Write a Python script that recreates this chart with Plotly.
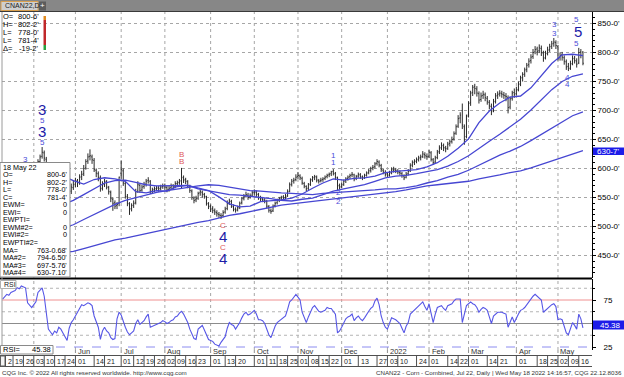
import plotly.graph_objects as go
import pandas as pd

# ---------------- data ----------------
holidays = ["2021-05-31", "2021-07-05", "2021-09-06", "2021-11-25", "2021-12-24",
            "2022-01-17", "2022-02-21", "2022-04-15"]
dates = pd.bdate_range("2021-04-12", "2022-05-18", freq="C", holidays=holidays)
date_str = [d.strftime("%Y-%m-%d") for d in dates]

opens = [535,541,546,554,563,571,576,583,591,589,599,597,602,587,584,
         582,591,599,612,621,627,616,598,584,566,556,566,563,573,565,559,551,541,561,567,
         573,579,576,586,591,601,613,621,620,614,597,591,584,566,573,577,567,559,547,541,536,540,
         592,596,574,551,539,531,537,541,561,571,563,569,573,579,578,561,564,565,567,566,569,
         571,567,564,567,571,569,574,576,579,584,581,577,569,561,549,546,549,558,559,555,551,539,
         534,531,527,524,521,519,519,525,531,541,543,534,529,529,533,541,549,553,554,551,554,
         559,559,555,549,547,545,543,534,527,527,536,541,546,549,551,550,553,561,573,579,581,
         586,587,583,574,569,566,573,581,585,585,579,579,581,583,586,589,591,595,591,584,571,
         569,573,579,583,586,589,589,583,587,589,585,585,589,593,597,601,603,609,611,605,597,593,
         591,589,593,597,597,595,593,591,587,585,591,596,606,611,613,616,619,621,624,621,
         621,627,615,611,619,629,636,639,635,635,643,647,651,661,673,687,700,672,655,
         692,714,731,741,737,729,719,726,727,721,714,707,700,716,726,729,729,727,725,722,706,721,731,
         729,736,746,757,763,771,779,786,793,801,806,803,807,799,791,799,805,811,816,817,
         810,791,796,791,784,776,773,781,789,785,782,801,800.75]
highs = [544,548,558,565,573,578,585,594,596,601,604,612,606,592,590,
         594,602,616,624,637,631,620,603,590,572,570,571,578,576,569,563,556,566,574,580,
         584,582,590,596,606,616,626,633,624,618,600,595,588,578,582,580,570,562,550,545,542,586,
         614,600,578,556,542,540,545,565,578,574,572,577,582,585,580,567,569,570,570,572,574,
         574,570,570,574,573,578,579,582,601,588,584,580,572,564,552,553,560,563,562,558,553,542,
         538,535,531,528,525,523,528,534,545,548,546,538,533,536,543,551,556,560,558,557,562,
         564,562,558,553,551,549,546,537,531,538,543,548,551,553,554,556,564,576,582,584,590,
         594,590,586,577,571,575,583,587,589,588,582,584,585,588,591,593,596,599,594,586,574,
         576,581,585,588,591,594,591,589,593,592,588,591,595,599,603,606,611,616,614,608,600,597,
         594,596,602,603,601,599,597,594,590,594,599,609,614,616,619,622,624,630,628,626,
         632,630,618,622,632,640,645,643,639,646,650,655,664,676,692,697,712,676,693,
         716,734,744,746,742,733,731,734,731,725,718,712,720,730,733,735,734,732,730,726,724,734,738,
         741,750,760,766,774,782,790,797,806,811,810,814,812,803,803,810,815,820,825,821,
         813,800,801,795,788,782,786,795,794,790,808,806,802.25]
lows = [530,536,543,550,558,566,572,580,582,586,590,594,584,578,574,
        579,586,596,606,617,612,596,580,560,548,552,556,560,560,554,546,527,536,556,563,
        568,568,572,580,587,598,608,614,608,594,585,578,560,562,568,564,555,542,527,530,530,535,
        582,570,548,535,520,526,532,538,558,558,560,565,569,574,556,557,559,561,560,562,565,
        563,559,560,563,563,566,570,572,565,575,573,566,558,546,540,542,546,553,550,548,536,530,
        525,523,520,517,515,513,516,522,528,537,532,526,524,526,530,538,545,550,546,548,551,
        553,551,546,544,542,540,531,524,522,525,533,538,542,545,545,547,551,559,569,574,578,
        582,580,572,566,561,563,570,577,580,576,574,576,577,580,583,585,587,588,580,563,564,
        566,570,575,579,582,585,578,580,584,582,580,582,586,590,593,597,600,605,602,594,590,586,
        584,586,590,593,592,590,588,584,580,583,588,594,602,606,609,612,614,618,617,615,
        618,612,606,608,616,625,632,630,628,632,638,643,648,658,670,678,668,641,652,
        688,708,725,728,724,712,715,720,716,710,702,692,697,712,720,724,722,720,716,695,702,717,722,
        726,733,742,750,758,766,774,781,789,797,795,799,794,784,788,795,801,806,810,806,
        786,786,786,779,770,768,770,778,781,774,780,790,778]
closes = [540,545,555,562,570,575,582,590,588,598,596,603,588,585,580,
          590,598,612,620,628,618,600,585,565,555,565,562,572,566,560,552,540,560,568,572,
          578,575,585,590,600,612,620,622,615,598,592,585,565,572,578,568,560,548,540,535,538,585,
          598,575,552,540,530,536,540,560,572,562,568,572,578,580,560,563,565,566,565,568,570,
          568,563,566,570,568,574,575,578,585,580,578,570,562,550,545,548,557,560,556,552,540,535,
          530,528,525,522,520,518,524,530,540,544,535,530,528,532,540,548,552,555,550,553,558,
          560,556,550,548,546,544,535,528,526,535,540,545,548,550,549,552,560,572,578,580,585,
          588,584,575,570,565,572,580,584,586,580,578,580,582,585,588,590,594,592,585,570,568,
          572,578,582,585,588,590,582,586,590,586,584,588,592,596,600,602,608,612,606,598,594,590,
          588,592,598,598,596,594,592,588,584,590,595,605,610,612,615,618,620,625,622,620,
          628,616,610,618,628,635,640,636,634,642,646,650,660,672,686,692,675,650,690,
          712,730,740,738,730,718,725,728,722,715,708,698,715,725,728,730,728,726,724,705,720,730,728,
          735,745,756,762,770,778,785,792,800,805,802,808,800,790,798,804,810,815,818,812,
          790,795,792,785,775,772,780,790,786,780,800,795,781.5]

ma_idx = [0,4,9,14,19,24,29,34,39,44,49,54,59,64,69,74,79,84,89,94,99,104,109,114,119,124,129,
          134,139,144,149,154,159,164,169,174,179,184,189,194,199,204,209,214,219,224,229,234,239,
          244,249,254,259,264,269,274,279]
ma_20 = [520,530,548,565,585,593,587,579,573,581,584,582,578,560,558,562,561,569,571,567,562,551,
         539,534,535,543,544,546,549,556,566,575,582,580,583,584,587,593,595,596,598,603,610,621,
         635,651,679,699,713,723,725,739,760,781,796,797,794.65]
ma_50 = [498,503,510,517,525,532,538,545,555,565,575,579,580,576,572,570,570,571,571,565,562,559,
         555,554,552,551,548,545,544,547,549,555,561,565,568,572,578,584,587,588,591,595,598,604,
         612,622,635,647,659,672,685,701,719,736,750,759,763.07]
ma_100 = [470,474,478,483,488,493,497,503,512,521,530,538,545,550,555,559,562,565,568,570,572,571,
          568,565,562,561,559,558,557,556,555,557,558,560,560,561,563,565,565,567,570,575,579,585,
          590,597,606,615,623,630,638,648,659,670,681,691,697.58]
ma_200 = [440,443,446,449,451,453,455,457,462,467,472,477,480,484,488,492,496,500,503,507,510,515,
          519,522,526,530,533,537,539,541,543,545,547,549,551,553,555,557,560,563,567,570,572,574,
          575,578,582,585,589,593,596,601,607,612,618,624,630.71]

rsi = [76,79,81,80,83,84,85,88,87,90,89,88,72,70,67,
       70,73,83,85,88,79,60,44,41,38,42,40,46,44,40,36,32,45,51,54,
       58,63,66,70,69,71,72,71,69,58,51,46,33,42,46,42,40,35,33,34,55,62,
       59,52,46,41,38,40,42,50,54,49,51,53,57,60,46,47,48,49,50,51,53,
       52,50,51,53,54,57,58,61,63,60,55,51,44,38,34,33,44,46,48,43,38,33,
       32,31,28,27,26,30,33,36,45,51,49,48,44,47,51,56,60,62,59,60,62,
       64,60,54,54,53,50,44,38,35,42,47,51,53,54,56,58,65,73,75,78,81,
       78,75,62,57,51,57,63,67,69,66,63,62,63,64,67,66,66,63,60,40,42,
       46,50,55,57,58,60,53,56,58,55,53,56,60,63,66,68,74,77,70,58,51,46,
       44,50,56,55,54,52,50,45,40,47,51,60,62,64,66,69,70,73,68,64,
       71,60,51,60,67,68,69,66,64,69,70,71,74,76,76,76,51,60,69,
       71,73,71,70,67,62,65,67,66,64,57,50,58,60,62,62,62,61,60,46,52,57,51,
       56,60,64,65,67,70,73,77,79,81,79,77,75,62,64,67,69,70,71,68,
       54,55,54,47,40,38,44,51,48,44,60,55,45.38]

price_ticks = [450, 500, 550, 600, 650, 700, 750, 800, 850]
price_tick_text = ["450-0'", "500-0'", "550-0'", "600-0'", "650-0'", "700-0'", "750-0'", "800-0'", "850-0'"]
rsi_ticks = [25, 50, 75]

day_tick_dates = ["2021-04-12","2021-04-19","2021-04-26","2021-05-03","2021-05-10","2021-05-17","2021-05-24",
                  "2021-06-01","2021-06-14","2021-06-21","2021-07-01","2021-07-12","2021-07-19","2021-07-26",
                  "2021-08-02","2021-08-09","2021-08-16","2021-08-23","2021-09-01","2021-09-13","2021-09-20",
                  "2021-10-01","2021-10-11","2021-10-18","2021-10-25","2021-11-01","2021-11-08","2021-11-15",
                  "2021-11-22","2021-12-01","2021-12-13","2021-12-27","2022-01-03","2022-01-10","2022-01-24",
                  "2022-02-01","2022-02-14","2022-02-22","2022-03-01","2022-03-14","2022-03-21","2022-04-01",
                  "2022-04-18","2022-04-25","2022-05-02","2022-05-09","2022-05-16"]
day_tick_text = ["2","19","26","03","10","17","24","01","14","21","01","12","19","26","02","09","16","23",
                 "01","13","20","01","11","18","25","01","08","15","22","01","13","27","03","10","24",
                 "01","14","22","01","14","21","01","18","25","02","09","16"]
month_dates = ["2021-06-01","2021-07-01","2021-08-02","2021-09-01","2021-10-01","2021-11-01",
               "2021-12-01","2022-01-03","2022-02-01","2022-03-01","2022-04-01","2022-05-02"]
month_text = ["Jun","Jul","Aug","Sep","Oct","Nov","Dec","2022","Feb","Mar","Apr","May"]
grid_month_dates = ["2021-05-03"] + month_dates

# Elliott-style labels: (text, bar index, price, size, colour)
BL, DB, RD = "#4a4ad8", "#1c1ca8", "#e05a5a"
wave_labels = [("3", 11, 616, 8, BL),
               ("3", 19, 701, 15, DB), ("5", 19, 682, 8, BL), ("3", 19, 663, 15, DB), ("5", 19, 644, 8, BL),
               ("B", 86, 624, 8, RD), ("B", 86, 612, 8, RD),
               ("C", 106, 501, 8, RD), ("4", 106, 482, 15, DB), ("C", 106, 464, 8, RD), ("4", 106, 445, 15, DB),
               ("1", 159, 623, 8, BL), ("1", 159, 610, 8, BL), ("2", 161.5, 558, 8, BL), ("2", 161.5, 543, 8, BL),
               ("3", 265.5, 849, 8, BL), ("3", 265.5, 833, 8, BL),
               ("5", 276, 857, 8, BL), ("5", 276.5, 836, 15, DB), ("5", 276, 816, 8, BL),
               ("4", 271.5, 757, 8, BL), ("4", 271.5, 745, 8, BL)]

# ---------------- geometry ----------------
FW, FH = 624, 377
L, R, T, B = 2, 592, 12, 350
W, H = R - L, B - T
X0 = -0.3
X1 = X0 + W / 2.08
P_TOP, P_BOT = 850 + 11.5 * 50 / 29, 850 - 254.5 * 50 / 29
R_TOP, R_BOT = 75 + 21 * 50 / 47, 25 - 3 * 50 / 47

def xpix(i):
    return L + (i - X0) * W / (X1 - X0)

def px(x):
    return (x - L) / W

def py(y):
    return (B - y) / H

pos = {s: i for i, s in enumerate(date_str)}
idx = list(range(len(closes)))

SANS = "Liberation Sans, Arial, sans-serif"
NARROW = "Liberation Sans Narrow, Liberation Sans, Arial, sans-serif"
annotations, shapes = [], []

def A(text, x, y, size=8, color="#000", xanchor="left", family=SANS, bg=None, border=None):
    d = dict(text=text, x=px(x), y=py(y), xref="paper", yref="paper", showarrow=False,
             xanchor=xanchor, yanchor="middle", font=dict(size=size, color=color, family=family),
             borderpad=0)
    if bg:
        d["bgcolor"] = bg
    if border:
        d["bordercolor"] = border
        d["borderwidth"] = 1
    annotations.append(d)

def RECT(x0, y0, x1, y1, fill=None, line=None, lw=1, layer="above"):
    shapes.append(dict(type="rect", xref="paper", yref="paper", x0=px(x0), x1=px(x1),
                       y0=py(y0), y1=py(y1), layer=layer,
                       fillcolor=fill if fill else "rgba(0,0,0,0)",
                       line=dict(color=line if line else "rgba(0,0,0,0)", width=lw if line else 0)))

def LINE(x0, y0, x1, y1, color, width=1, dash="solid", layer="above"):
    shapes.append(dict(type="line", xref="paper", yref="paper", x0=px(x0), x1=px(x1),
                       y0=py(y0), y1=py(y1), layer=layer, line=dict(color=color, width=width, dash=dash)))

# ---------------- traces ----------------
fig = go.Figure()
fig.add_trace(go.Ohlc(x=idx, open=opens, high=highs, low=lows, close=closes,
                      increasing=dict(line=dict(color="#2a2a2a", width=1)),
                      decreasing=dict(line=dict(color="#2a2a2a", width=1)),
                      tickwidth=0.4, xaxis="x", yaxis="y", hoverinfo="skip", showlegend=False))
for ser in (ma_200, ma_100, ma_50, ma_20):
    fig.add_trace(go.Scatter(x=ma_idx, y=ser, mode="lines", xaxis="x", yaxis="y",
                             line=dict(color="#4646d2", width=1.3), hoverinfo="skip", showlegend=False))
fig.add_trace(go.Scatter(x=idx, y=rsi, mode="lines", xaxis="x", yaxis="y2",
                         line=dict(color="#5656e6", width=1.1), hoverinfo="skip", showlegend=False))

# ---------------- grid & panel lines ----------------
for d in grid_month_dates:
    i = pos[d]
    shapes.append(dict(type="line", xref="x", yref="paper", x0=i, x1=i, y0=py(278), y1=1,
                       layer="below", line=dict(color="#a6a6a6", width=1, dash="dot")))
    shapes.append(dict(type="line", xref="x", yref="paper", x0=i, x1=i, y0=0, y1=py(279),
                       layer="below", line=dict(color="#a6a6a6", width=1, dash="dot")))
for v in (37.5, 62.5, 87.5):
    shapes.append(dict(type="line", xref="paper", yref="y2", x0=0, x1=1, y0=v, y1=v, layer="below",
                       line=dict(color="#b4b4b4", width=1, dash="dot")))
shapes.append(dict(type="line", xref="paper", yref="y2", x0=0, x1=1, y0=75, y1=75, layer="below",
                   line=dict(color="#f09090", width=1)))
shapes.append(dict(type="line", xref="paper", yref="y2", x0=0, x1=1, y0=50, y1=50, layer="below",
                   line=dict(color="#8c8c8c", width=1)))
shapes.append(dict(type="line", xref="paper", yref="y2", x0=0, x1=1, y0=25, y1=25, layer="below",
                   line=dict(color="#8c8cf0", width=1, dash="dash")))
LINE(0, 278.5, R, 278.5, "#000", 2)
LINE(L, T, L, B, "#9a9a9a", 1)

# ---------------- top bar ----------------
RECT(0, 0, FW, 11, fill="#878787")
RECT(1, 1.5, 38, 10.5, fill="#cfcfcf", line="#d8a050")
A("CNAN22,D", 4, 6, size=7, color="#222")
RECT(39, 1.5, 46, 10.5, fill="#5c5c5c")
A("+", 42.5, 6, size=8, color="#fff", xanchor="center")
LINE(0, 11.5, FW, 11.5, "#3a3a3a", 1)

# top-left quote block
q_lab = ["O=", "H=", "L=", "L=", "Δ="]
q_val = ["800-6'", "802-2'", "778-0'", "781-4'", "-19-2'"]
for k, (a, b) in enumerate(zip(q_lab, q_val)):
    y = 17 + k * 7.8
    A(a, 2, y, size=7.5)
    A(b, 40, y, size=7.5, xanchor="right")
RECT(43.5, 16, 46, 20, fill="#e08a20")
RECT(43.5, 20, 46, 45, fill="#c0282a")
RECT(43.5, 45, 46, 50, fill="#2aa040")

# ---------------- info box ----------------
RECT(0, 162.5, 70, 277, fill="#ffffff", line="#8a8a8a")
info_lab = ["18 May 22", "O=", "H=", "L=", "C=", "EWM=", "EWI=", "EWPTI=", "EWM#2=", "EWI#2=",
            "EWPTI#2=", "MA=", "MA#2=", "MA#3=", "MA#4="]
info_val = ["", "800-6'", "802-2'", "778-0'", "781-4'", "0", "0", "", "0", "0", "",
            "763-0.68'", "794-6.50'", "697-5.76'", "630-7.10'"]
for k, (a, b) in enumerate(zip(info_lab, info_val)):
    y = 167.3 + k * 7.52
    A(a, 2, y, size=7.2)
    if b:
        A(b, 68, y, size=7.2, xanchor="right")

# ---------------- wave labels ----------------
for t, i, p, s, c in wave_labels:
    annotations.append(dict(text=t, x=i, y=p, xref="x", yref="y", showarrow=False, xanchor="center",
                            yanchor="middle", font=dict(size=s, color=c, family=SANS)))

# ---------------- right axis highlights ----------------
RECT(593, 147.5, FW, 155, fill="#1c1ce8")
A("630-7'", 596, 151.3, size=8, color="#fff")
RECT(593, 320.5, FW, 329.5, fill="#1c1ce8")
A("45.38", 622, 325, size=8, color="#fff", xanchor="right")

# RSI captions
RECT(0.5, 280.5, 16, 288.5, fill="#fff", line="#b0b0b0")
A("RSI", 2.5, 284.5, size=7, color="#222")
RECT(0.5, 345.5, 53, 354, fill="#fff", line="#8a8a8a")
A("RSI=", 2, 349.8, size=7.5)
A("45.38", 52, 349.8, size=7.5, xanchor="right")

# ---------------- date axis ----------------
LINE(0, 355.5, R, 355.5, "#505050", 1)
LINE(0, 366.5, R, 366.5, "#505050", 1)
RECT(0.5, 356, 5, 366, fill="#f4f4f4", line="#606060")
for d, t in zip(day_tick_dates, day_tick_text):
    i = pos[d]
    xx = max(xpix(i), 5.5)
    if t == "2":
        xx = 5.5
    LINE(xx, 355.5, xx, 366.5, "#505050", 1)
    A(t, xx + 1.2, 361.3, size=7, color="#222")
for d, t in zip(month_dates, month_text):
    x = xpix(pos[d])
    LINE(x, 350, x, 353, "#909090", 1, dash="dot")
    A(t, x + 1.5, 351.3, size=7.5, color="#333")

# footer
A("CQG Inc. © 2022 All rights reserved worldwide. http://www.cqg.com", 1, 372, size=6.2,
  color="#333", family=NARROW)
A("CNAN22 - Corn - Combined, Jul 22, Daily | Wed May 18 2022 14:16:57, CQG 22.12.8036", 623, 372,
  size=6.2, color="#333", xanchor="right", family=NARROW)

# ---------------- layout ----------------
fig.update_layout(
    width=FW, height=FH,
    margin=dict(l=L, r=FW - R, t=T, b=FH - B, pad=0),
    paper_bgcolor="#ffffff", plot_bgcolor="#ffffff",
    showlegend=False,
    font=dict(family=SANS, size=8, color="#000"),
    xaxis=dict(domain=[0, 1], range=[X0, X1], anchor="y2", showticklabels=False, showgrid=False,
               zeroline=False, showline=False, ticks="", rangeslider=dict(visible=False), fixedrange=True),
    yaxis=dict(domain=[py(278), 1], range=[P_BOT, P_TOP], side="right", anchor="x",
               tickmode="array", tickvals=price_ticks, ticktext=price_tick_text,
               showgrid=True, gridcolor="#a6a6a6", griddash="dot", gridwidth=1,
               showline=True, linecolor="#000", linewidth=1, ticks="outside", ticklen=3,
               tickcolor="#000", tickfont=dict(size=8, color="#000", family=SANS), zeroline=False,
               minor=dict(tickmode="linear", tick0=0, dtick=10, ticks="outside", ticklen=2,
                          tickcolor="#000", showgrid=False)),
    yaxis2=dict(domain=[0, py(279)], range=[R_BOT, R_TOP], side="right", anchor="x",
                tickmode="array", tickvals=rsi_ticks, ticktext=[str(v) for v in rsi_ticks],
                showgrid=False, showline=True, linecolor="#000", linewidth=1, ticks="outside",
                ticklen=3, tickcolor="#000", ticklabelstandoff=6,
                tickfont=dict(size=8, color="#000", family=SANS), zeroline=False,
                minor=dict(tickmode="linear", tick0=0, dtick=12.5, ticks="outside", ticklen=2,
                           tickcolor="#000", showgrid=False)),
    annotations=annotations,
    shapes=shapes,
)

fig.write_html("out.html", config={"displayModeBar": False, "staticPlot": True},
               post_script="document.body.style.margin='0px';document.body.style.overflow='hidden';")
